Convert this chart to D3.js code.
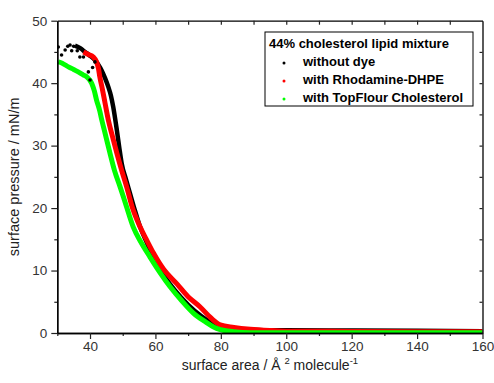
<!DOCTYPE html>
<html>
<head>
<meta charset="utf-8">
<script src="https://cdn.jsdelivr.net/npm/d3@7"></script>
<style>
  body { margin: 0; background: #fff; }
  svg text { font-family: "Liberation Sans", Arial, sans-serif; }
</style>
</head>
<body>
<div id="chart"></div>
<script>
// isotherm data: [area (A^2/molecule), pressure (mN/m)]
const noDye = [
  [35.4, 46], [37, 45.6], [38.5, 45], [40, 44.4], [41.5, 43.7], [42.5, 43], [43.6, 42],
  [44.6, 40.8], [45.6, 39.4], [46.4, 38], [47.1, 36.2], [48.2, 32.5], [49, 29.5],
  [49.7, 27.1], [51, 24.6], [52.2, 22.4], [53.8, 19.5], [55.3, 17], [57, 14.9],
  [59, 12.6], [61, 10.6], [63, 8.9], [66, 6.8], [70, 4.5], [74, 2.7], [78, 1.4],
  [82, 0.8], [90, 0.5], [100, 0.45], [120, 0.4], [140, 0.35], [160, 0.3]
];
const noDyeScatter = [
  [30.3, 45.8], [31.3, 44.5], [32.4, 45.3], [33.2, 45.9], [33.9, 46.1], [34.4, 45.2],
  [35, 45.9], [36.1, 45.2], [36.9, 44.2], [38, 44.2], [39.5, 41.8], [40, 40.5],
  [40.8, 42.5], [41.5, 43.4]
];
const rhodamine = [
  [38, 45], [39.5, 44.6], [41, 44.2], [42, 43.4], [42.6, 42.3], [43, 41], [43.8, 39],
  [44.6, 36.8], [45.6, 34.1], [46.6, 32], [48.2, 28.8], [49.7, 26], [51.2, 23.4],
  [53, 20], [55.3, 17], [57.3, 14.9], [59.4, 12.8], [62.5, 10.2], [66.5, 7.9],
  [70, 5.8], [73.6, 4.2], [77, 2.4], [79.8, 1.3], [84, 0.9], [89, 0.6], [95, 0.4],
  [100, 0.3], [120, 0.25], [140, 0.2], [160, 0.2]
];
const topFlour = [
  [30.3, 43.4], [31.5, 43.2], [33.4, 42.6], [35, 42.2], [36.4, 41.8], [38, 41.3],
  [39, 41], [40.5, 40], [41.3, 38.8], [42, 37.3], [43, 35.5], [43.6, 34.1], [44.6, 32],
  [46.1, 28.8], [47.5, 26], [49.2, 23.4], [51, 20.5], [53.2, 17], [55.5, 14.6],
  [58.3, 12.2], [61.5, 9.6], [64.5, 7.4], [68, 5.2], [71.6, 3.2], [75, 1.9],
  [78.7, 0.75], [84, 0.2], [89, 0.05], [100, 0.05], [160, 0.05]
];

const seriesNames = ['without dye', 'with Rhodamine-DHPE', 'with TopFlour Cholesterol'];
const seriesColors = ['#000000', '#ff0000', '#00ff00'];
const legendTitle = '44% cholesterol lipid mixture';
const xTicks = [40, 60, 80, 100, 120, 140, 160];
const yTicks = [0, 10, 20, 30, 40, 50];

const W = 494, H = 383;
const margin = { top: 20.7, right: 11.5, bottom: 50, left: 57.3 };
const width = W - margin.left - margin.right;
const height = H - margin.top - margin.bottom;

const x = d3.scaleLinear().domain([30, 160]).range([0, width]);
const y = d3.scaleLinear().domain([0, 50]).range([height, 0]);

const svg = d3.select('#chart')
  .append('svg')
  .attr('width', W)
  .attr('height', H)
  .append('g')
  .attr('transform', 'translate(' + margin.left + ',' + margin.top + ')');

// clip for data
svg.append('clipPath').attr('id', 'clip')
  .append('rect').attr('width', width).attr('height', height + 2).attr('y', -1);

const plot = svg.append('g').attr('clip-path', 'url(#clip)');

const line = d3.line()
  .x(d => x(d[0]))
  .y(d => y(d[1]))
  .curve(d3.curveMonotoneX);

const series = [noDye, rhodamine, topFlour];
const widths = [4.5, 5, 5];
series.forEach((s, i) => {
  plot.append('path')
    .datum(s)
    .attr('fill', 'none')
    .attr('stroke', seriesColors[i])
    .attr('stroke-width', widths[i])
    .attr('stroke-linejoin', 'round')
    .attr('d', line);
});

plot.selectAll('.scatter')
  .data(noDyeScatter)
  .enter()
  .append('circle')
  .attr('class', 'scatter')
  .attr('cx', d => x(d[0]))
  .attr('cy', d => y(d[1]))
  .attr('r', 1.8)
  .attr('fill', '#000');

// axes
const tickColor = '#222';
const labelColor = '#333';

const xAxis = d3.axisBottom(x).tickValues(xTicks).tickSize(6).tickPadding(2).tickSizeOuter(0);
const xMinor = d3.axisBottom(x).tickValues(d3.range(30, 161, 10).filter(v => v % 20 !== 0))
  .tickSize(3).tickSizeOuter(0).tickFormat('');
const yAxis = d3.axisLeft(y).tickValues(yTicks).tickSize(6).tickSizeOuter(0);
const yMinor = d3.axisLeft(y).tickValues(d3.range(5, 50, 10)).tickSize(3).tickSizeOuter(0).tickFormat('');
const xTop = d3.axisTop(x).tickValues(d3.range(40, 160, 10)).tickSize(-4).tickSizeOuter(0).tickFormat('');
const yRight = d3.axisRight(y).tickValues(d3.range(5, 50, 5)).tickSize(-3).tickSizeOuter(0).tickFormat('');

function styleAxis(g) {
  g.select('.domain').attr('stroke', '#000').attr('stroke-width', 1.3);
  g.selectAll('.tick line').attr('stroke', tickColor).attr('stroke-width', 1.2);
  g.selectAll('.tick text').attr('fill', labelColor).style('font-size', '13.5px');
}

svg.append('g').attr('transform', 'translate(0,' + height + ')').call(xMinor).call(styleAxis);
svg.append('g').attr('transform', 'translate(0,' + height + ')').call(xAxis).call(styleAxis);
svg.append('g').call(yMinor).call(styleAxis);
svg.append('g').call(yAxis).call(styleAxis)
  .selectAll('.tick text').attr('x', -10);
svg.append('g').call(xTop).call(styleAxis);
svg.append('g').attr('transform', 'translate(' + width + ',0)').call(yRight).call(styleAxis);

// axis titles
svg.append('text')
  .attr('transform', 'translate(' + (-38) + ',' + (height / 2) + ') rotate(-90)')
  .attr('text-anchor', 'middle')
  .attr('fill', '#222')
  .style('font-size', '14.5px')
  .text('surface pressure / mN/m');

const xt = svg.append('text')
  .attr('x', width / 2)
  .attr('y', height + 37)
  .attr('text-anchor', 'middle')
  .attr('fill', '#222')
  .style('font-size', '14px');
xt.append('tspan').text('surface area / Å ');
xt.append('tspan').attr('dy', -6).style('font-size', '9.5px').text('2');
xt.append('tspan').attr('dy', 6).text(' molecule');
xt.append('tspan').attr('dy', -6).style('font-size', '9.5px').text('-1');

// legend
const lg = svg.append('g').attr('transform', 'translate(' + (265 - margin.left) + ',' + (32 - margin.top) + ')');
lg.append('rect')
  .attr('width', 208)
  .attr('height', 74)
  .attr('fill', '#fff')
  .attr('stroke', '#000')
  .attr('stroke-width', 1);
lg.append('text')
  .attr('x', 4)
  .attr('y', 16)
  .style('font-size', '13px')
  .style('font-weight', 'bold')
  .attr('fill', '#000')
  .text(legendTitle);
seriesNames.forEach((name, i) => {
  const yy = 34 + i * 18;
  lg.append('circle')
    .attr('cx', 19)
    .attr('cy', yy - 3)
    .attr('r', 1.5)
    .attr('fill', seriesColors[i]);
  lg.append('text')
    .attr('x', 38)
    .attr('y', yy)
    .style('font-size', '13px')
    .style('font-weight', 'bold')
    .attr('fill', '#000')
    .text(name);
});
</script>
</body>
</html>
